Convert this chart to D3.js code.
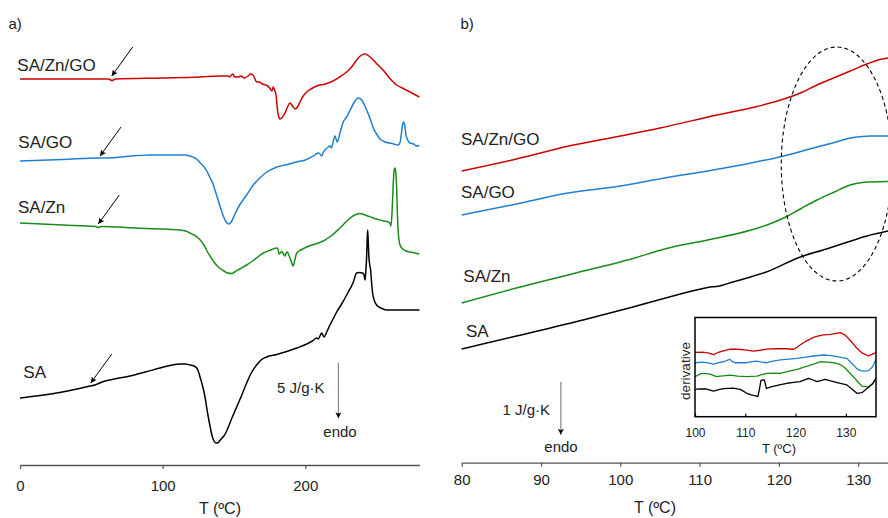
<!DOCTYPE html>
<html>
<head>
<meta charset="utf-8">
<script src="https://cdn.jsdelivr.net/npm/d3@7"></script>
<style>
  body { margin: 0; background: #fff; }
  text { font-family: "Liberation Sans", Arial, Helvetica, sans-serif; }
</style>
</head>
<body>
<div id="chart"></div>
<script>
var svgWidth = 888;
var svgHeight = 518;

// series names and colours
var seriesNames = ["SA/Zn/GO", "SA/GO", "SA/Zn", "SA"];
var seriesColors = ["#cc0000", "#1f7fd1", "#1a8c1a", "#000000"];

// tick values
var ticksA = [0, 100, 200];
var ticksB = [80, 90, 100, 110, 120, 130];
var ticksInset = [100, 110, 120, 130];

// panel a) full DSC scans, [T (ºC), heat flow (a.u., stacked)]
var aSAZnGO = [[0,38.6],[30,38.6],[56,38.6],[62,38.6],[64.5,38.45],[67,38.6],[100,38.7],[126,38.8],[140,38.9],[145.8,38.9],[147,38.8],[148,38.95],[149.3,39.1],[150.5,38.8],[153,38.8],[155,38.9],[157,38.7],[160,38.9],[161.5,39.1],[163.3,39.0],[164.5,38.7],[165.9,38.3],[167.5,38.3],[170,38.1],[172,38.0],[173.2,37.95],[175,37.7],[176.7,37.4],[177.4,37.8],[178.2,37.6],[179.5,37.0],[180.3,35.8],[181.2,34.9],[182.3,34.6],[184,34.8],[185.8,35.2],[187.5,35.8],[189.3,36.2],[191,35.9],[192.8,35.6],[194.5,35.8],[196.3,36.3],[198.5,36.9],[201,37.3],[204,37.6],[208,37.9],[214,38.1],[219.4,38.4],[224,38.8],[229,39.3],[232.5,39.8],[236,40.5],[239,40.95],[241.9,41.1],[244.5,40.9],[247.7,40.5],[251,40.0],[254.5,39.5],[259,38.7],[264.1,38.0],[268,37.7],[273.4,37.3],[280,36.8]];
var aSAGO = [[0,30.4],[30,30.55],[56.1,30.7],[58,30.7],[91,31.0],[110,31.0],[116,31.0],[119,30.9],[122,30.75],[124.5,30.5],[126.5,30.2],[128.5,29.9],[130.9,29.4],[133,28.8],[135.3,28.1],[137.8,27.0],[140.2,25.9],[142.5,24.9],[144.5,24.3],[146.5,24.1],[148.5,24.4],[150.7,25.1],[154,26.0],[158.9,27.0],[163,27.9],[168.2,28.7],[173,29.3],[177,29.6],[180,29.8],[186,30.0],[194,30.3],[200,30.5],[205.6,30.9],[209.1,31.2],[210.3,31.1],[211.5,30.9],[212.8,31.3],[214.5,31.6],[216.1,31.8],[217.3,31.9],[218.3,31.7],[219.5,32.3],[220.8,32.9],[221.6,32.6],[222.4,32.3],[224.5,33.3],[226.6,34.3],[229,34.8],[231.5,35.5],[234,36.2],[237.2,36.7],[239.5,36.5],[241.5,36.0],[243,35.5],[245.5,34.6],[247.7,33.7],[250,33.1],[252.4,32.6],[256,32.3],[259.4,32.2],[262,32.1],[265.2,32.0],[266.5,32.3],[267.5,33.3],[268.3,34.1],[269,34.3],[269.8,33.9],[270.6,33.0],[271.5,32.6],[273.4,32.2],[276,32.1],[278,31.9],[280,31.95]];
var aSAZn = [[0,24.2],[30,24.0],[53,23.85],[55,23.75],[57,23.85],[80,23.7],[100,23.6],[112.2,23.5],[116,23.4],[119.2,23.2],[122,23.0],[125,22.7],[128.5,22.1],[131.5,21.3],[135.5,20.4],[139,19.8],[142.5,19.45],[145.5,19.2],[148.4,19.15],[151,19.35],[154,19.6],[158.9,20.0],[164,20.5],[170.6,21.2],[175,21.45],[180,21.7],[180.8,21.6],[181.6,21.1],[182.5,21.2],[183.5,21.35],[184.7,21.1],[185.8,20.9],[186.6,21.2],[187.4,21.3],[188.4,21.0],[189.3,20.7],[190.5,20.2],[191.6,19.9],[192.8,20.6],[194,21.2],[197,21.5],[201,21.8],[207,22.1],[212.6,22.4],[218,22.9],[224.3,23.7],[230,24.5],[234,24.95],[238.3,25.15],[242,25.0],[247.7,24.7],[251,24.55],[254.7,24.4],[258.2,24.3],[259.3,24.2],[260.1,23.9],[260.9,25.5],[261.7,28.2],[262.3,29.5],[262.9,29.7],[263.5,29.2],[264.1,27.5],[264.6,25.0],[265.2,23.2],[266.2,22.1],[267.6,21.7],[270,21.45],[273.4,21.3],[277,21.2],[280,21.1]];
var aSA = [[0,6.7],[14,6.95],[28,7.25],[40,7.6],[49,7.9],[52.6,8.0],[55,8.15],[59.6,8.4],[68,8.65],[77.1,8.9],[88,9.3],[98.1,9.7],[105,9.95],[112.2,10.1],[116,10.1],[119.2,10.0],[122,9.9],[123.9,9.7],[125.2,9.3],[126.2,8.8],[128,7.9],[129.7,6.8],[131.5,5.2],[133.2,3.9],[134.7,2.9],[136,2.4],[137.3,2.2],[138.3,2.2],[139.6,2.35],[141,2.6],[142.9,2.9],[144.9,3.4],[148,4.5],[151.9,5.8],[155.5,7.0],[158.9,8.2],[162.5,9.3],[165.9,10.0],[169,10.5],[172.9,10.8],[180,11.05],[187,11.35],[194,11.7],[201,12.1],[205,12.4],[208,12.7],[209.1,12.6],[210.3,12.9],[211.5,13.2],[212.3,13.0],[213.1,12.8],[215,13.3],[217.3,14.0],[219.5,14.6],[222,15.3],[225.5,16.1],[229,17.0],[233.7,18.3],[236,19.2],[238,19.25],[240.2,19.2],[241.2,19.0],[241.9,18.5],[242.5,19.5],[243,20.8],[243.4,22.5],[243.7,23.5],[244.1,22.5],[244.5,21.0],[245.2,20.0],[245.8,19.5],[246.5,18.2],[247.2,17.2],[248.5,16.4],[250,16.0],[253,15.7],[257.1,15.5],[265,15.5],[280,15.5]];

// Tg arrows in panel a) (tip temperature and heat flow)
var tgT = [64.3, 56.1, 54.9, 49.6];
var tgV = [38.9, 30.9, 24.1, 8.2];

// panel b) zoom on the Tg region
var bSAZnGO = [[80,29.1],[86.9,30.3],[94.1,31.7],[100,32.6],[105,33.4],[112.2,34.7],[117,35.5],[120.6,36.3],[122.7,36.9],[124.8,37.7],[126.9,38.4],[129,39.1],[131.1,39.8],[132.5,40.2],[133.8,40.4]];
var bSAGO = [[80,24.7],[86.9,25.8],[93.4,26.9],[100,27.6],[105.6,28.4],[111,29.1],[116.5,29.9],[120.6,30.6],[124.8,31.5],[127,31.95],[129,32.4],[130.5,32.55],[131.5,32.6],[133.8,32.6]];
var bSAZn = [[80,15.9],[86.9,17.4],[93.4,18.7],[101.8,20.4],[105.6,21.3],[111,22.2],[116.5,23.2],[118.5,23.7],[120.6,24.4],[122.7,25.3],[124.8,26.2],[127,27.0],[129,27.7],[130.5,27.95],[131.5,28.0],[133.8,28.05]];
var bSA = [[80,11.3],[86.9,12.6],[95.3,14.2],[101.6,15.5],[109.6,17.2],[111,17.45],[112.5,17.6],[114.2,18.0],[118.4,19.0],[122.7,20.5],[126,21.3],[128.5,21.95],[131.1,22.6],[133.8,23.1]];

// inset: derivative curves
var dSAZnGO = [[100,6.49],[101.5,6.5],[102.8,6.4],[103.7,6.25],[104.5,6.45],[105.5,6.6],[107,6.82],[108.5,6.8],[110.3,6.72],[111.6,6.62],[113,6.7],[114.3,6.82],[116,6.85],[118,6.85],[119.6,6.8],[120.3,7.0],[120.9,7.23],[122.2,7.65],[123.6,8.0],[124.6,8.15],[125.6,8.24],[127,8.3],[128,8.4],[128.9,8.47],[129.6,8.3],[130.2,8.06],[131.2,7.5],[132.2,6.9],[133.3,6.4],[134.5,6.12],[135.3,6.3],[136,6.45]];
var dSAGO = [[100,5.44],[101.5,5.5],[102.6,5.42],[103.7,5.31],[104.7,5.45],[105.7,5.54],[106.5,5.7],[106.9,5.79],[107.4,5.55],[108,5.44],[109,5.45],[110.3,5.44],[111.3,5.55],[112.3,5.61],[113.3,5.5],[114.3,5.44],[115.5,5.6],[117,5.72],[118.7,5.8],[120.3,5.88],[122,6.0],[123.6,6.12],[125.6,6.22],[127,6.15],[128.3,6.05],[129.3,5.95],[130.2,5.88],[131.5,5.21],[132.2,4.85],[132.9,4.64],[133.7,4.6],[134.5,4.64],[135.1,4.9],[135.5,5.21],[136,5.8]];
var dSAZn = [[100,4.03],[101.3,4.37],[102.2,4.35],[103,4.3],[104.3,4.03],[105.5,4.12],[107,4.2],[108.5,4.1],[110.3,4.03],[112.3,4.1],[113.3,4.25],[114.3,4.37],[116,4.4],[117,4.37],[118.7,4.6],[120.3,4.78],[122,5.05],[123.6,5.31],[125,5.54],[126.3,5.5],[127.6,5.44],[128.7,5.3],[129.6,5.04],[130.6,4.5],[131.5,4.03],[132.4,3.5],[133.2,3.09],[134.5,2.99],[135.5,3.43],[136,3.87]];
var dSA = [[100,2.76],[101,2.8],[102.3,2.79],[103.7,2.59],[104.7,2.72],[105.7,2.82],[107.6,2.89],[109,2.76],[110.3,2.36],[111.2,2.2],[112,2.09],[112.5,2.02],[112.8,2.69],[113.1,3.63],[113.5,3.72],[113.8,3.7],[114.2,2.86],[115.3,3.02],[116.8,3.2],[118.3,3.37],[119.6,3.45],[120.9,3.53],[122.6,3.87],[123.5,3.7],[124.3,3.53],[125.9,3.77],[127,3.6],[128.3,3.43],[130.2,3.2],[131.2,2.8],[132.2,2.36],[133.2,2.42],[134.5,2.96],[135.3,3.3],[136,3.87]];

var svg = d3.select("#chart")
  .append("svg")
  .attr("width", svgWidth)
  .attr("height", svgHeight);

// arrow heads
var defs = svg.append("defs");
defs.append("marker")
  .attr("id", "head")
  .attr("viewBox", "0 0 10 10")
  .attr("refX", 10).attr("refY", 5)
  .attr("markerWidth", 8).attr("markerHeight", 6)
  .attr("markerUnits", "userSpaceOnUse")
  .attr("orient", "auto")
  .append("path").attr("d", "M0,0 L10,5 L0,10 L2,5 Z").attr("fill", "#000");
defs.append("marker")
  .attr("id", "headBar")
  .attr("viewBox", "0 0 10 10")
  .attr("refX", 10).attr("refY", 5)
  .attr("markerWidth", 9).attr("markerHeight", 6)
  .attr("markerUnits", "userSpaceOnUse")
  .attr("orient", "auto")
  .append("path").attr("d", "M0,0 L10,5 L0,10 L2.5,5 Z").attr("fill", "#000");

function styleAxis(g, fs) {
  g.select(".domain").attr("stroke", "#555").attr("stroke-width", 1.3);
  g.selectAll(".tick line").attr("stroke", "#555").attr("stroke-width", 1.2);
  g.selectAll(".tick text").attr("fill", "#222").attr("font-size", fs)
    .attr("font-family", "'Liberation Sans', Arial, sans-serif");
}

// ---------- panel a ----------
var xA = d3.scaleLinear().domain([0, 280]).range([20, 419.4]);
var yA = d3.scaleLinear().domain([0, 44]).range([465, 25]);

var lineA = d3.line().x(d => xA(d[0])).y(d => yA(d[1])).curve(d3.curveMonotoneX);
var curvesA = [aSAZnGO, aSAGO, aSAZn, aSA];

svg.selectAll(".curveA").data(curvesA).enter()
  .append("path")
  .attr("class", "curveA")
  .attr("d", lineA)
  .attr("fill", "none")
  .attr("stroke", (d, i) => seriesColors[i])
  .attr("stroke-width", 1.5)
  .attr("stroke-linejoin", "round");

var axisA = svg.append("g")
  .attr("transform", "translate(0,465)")
  .call(d3.axisBottom(xA).tickValues(ticksA).tickSizeInner(4).tickSizeOuter(0).tickPadding(11));
styleAxis(axisA, 15);

svg.append("text").attr("x", 220).attr("y", 514).attr("text-anchor", "middle")
  .attr("font-size", 16).attr("fill", "#222").text("T (ºC)");
svg.append("text").attr("x", 8.5).attr("y", 28.5).attr("font-size", 15).attr("fill", "#222").text("a)");

var labelsA = [[17.3, 70.7], [18.3, 148.3], [18, 213.3], [23.3, 378.3]];
svg.selectAll(".labA").data(seriesNames).enter()
  .append("text")
  .attr("x", (d, i) => labelsA[i][0])
  .attr("y", (d, i) => labelsA[i][1])
  .attr("font-size", 17).attr("fill", "#222")
  .text(d => d);

// Tg arrows
svg.selectAll(".tgArrow").data(tgT).enter()
  .append("line")
  .attr("x1", d => xA(d) + 21)
  .attr("y1", (d, i) => yA(tgV[i]) - 29)
  .attr("x2", d => xA(d))
  .attr("y2", (d, i) => yA(tgV[i]))
  .attr("stroke", "#000").attr("stroke-width", 1)
  .attr("marker-end", "url(#head)");

// scale bar a
svg.append("line")
  .attr("x1", xA(223.2)).attr("y1", yA(10.23))
  .attr("x2", xA(223.2)).attr("y2", yA(10.23 - 5.56))
  .attr("stroke", "#888").attr("stroke-width", 1.2)
  .attr("marker-end", "url(#headBar)");
svg.append("text").attr("x", 324.5).attr("y", 393.3).attr("text-anchor", "end")
  .attr("font-size", 15).attr("fill", "#222").text("5 J/g·K");
svg.append("text").attr("x", 340).attr("y", 436.5).attr("text-anchor", "middle")
  .attr("font-size", 15).attr("fill", "#222").text("endo");

// ---------- panel b ----------
var xB = d3.scaleLinear().domain([80, 133.76]).range([461.7, 888]);
var yB = d3.scaleLinear().domain([0, 44]).range([462, 22]);

var lineB = d3.line().x(d => xB(d[0])).y(d => yB(d[1])).curve(d3.curveMonotoneX);
var curvesB = [bSAZnGO, bSAGO, bSAZn, bSA];

svg.selectAll(".curveB").data(curvesB).enter()
  .append("path")
  .attr("class", "curveB")
  .attr("d", lineB)
  .attr("fill", "none")
  .attr("stroke", (d, i) => seriesColors[i])
  .attr("stroke-width", 1.5);

var axisB = svg.append("g")
  .attr("transform", "translate(0,462.7)")
  .call(d3.axisBottom(xB).tickValues(ticksB).tickSizeInner(4).tickSizeOuter(0).tickPadding(7.7));
styleAxis(axisB, 15);

svg.append("text").attr("x", 655).attr("y", 513).attr("text-anchor", "middle")
  .attr("font-size", 16).attr("fill", "#222").text("T (ºC)");
svg.append("text").attr("x", 460.5).attr("y", 28.5).attr("font-size", 15).attr("fill", "#222").text("b)");

var labelsB = [[461, 145], [461, 198.3], [463.3, 281.7], [466, 337.3]];
svg.selectAll(".labB").data(seriesNames).enter()
  .append("text")
  .attr("x", (d, i) => labelsB[i][0])
  .attr("y", (d, i) => labelsB[i][1])
  .attr("font-size", 17).attr("fill", "#222")
  .text(d => d);

// dashed ellipse marking the transition
svg.append("ellipse")
  .attr("cx", xB(127.3)).attr("cy", yB(29.8))
  .attr("rx", xB(127.3 + 7) - xB(127.3))
  .attr("ry", yB(0) - yB(11.7))
  .attr("fill", "none").attr("stroke", "#000").attr("stroke-width", 1.1)
  .attr("stroke-dasharray", "4,3");

// scale bar b
svg.append("line")
  .attr("x1", xB(92.5)).attr("y1", yB(8.03))
  .attr("x2", xB(92.5)).attr("y2", yB(8.03 - 5.3))
  .attr("stroke", "#888").attr("stroke-width", 1.2)
  .attr("marker-end", "url(#headBar)");
svg.append("text").attr("x", 550).attr("y", 415).attr("text-anchor", "end")
  .attr("font-size", 15).attr("fill", "#222").text("1 J/g·K");
svg.append("text").attr("x", 561).attr("y", 451.5).attr("text-anchor", "middle")
  .attr("font-size", 15).attr("fill", "#222").text("endo");

// ---------- inset ----------
var xI = d3.scaleLinear().domain([100, 136]).range([695, 876]);
var yI = d3.scaleLinear().domain([0, 10]).range([416.7, 317.5]);

var lineI = d3.line().x(d => xI(d[0])).y(d => yI(d[1]));
var curvesI = [dSAZnGO, dSAGO, dSAZn, dSA];

svg.append("rect")
  .attr("x", 695).attr("y", 317.5).attr("width", 181).attr("height", 99.2)
  .attr("fill", "#fff");

svg.selectAll(".curveI").data(curvesI).enter()
  .append("path")
  .attr("class", "curveI")
  .attr("d", lineI)
  .attr("fill", "none")
  .attr("stroke", (d, i) => seriesColors[i])
  .attr("stroke-width", 1.3)
  .attr("stroke-linejoin", "round");

var axisI = svg.append("g")
  .attr("transform", "translate(0,416.7)")
  .call(d3.axisBottom(xI).tickValues(ticksInset).tickSizeInner(-3).tickSizeOuter(0).tickPadding(11.5));
styleAxis(axisI, 12);
axisI.select(".domain").remove();
axisI.selectAll(".tick line").attr("stroke", "#000");

svg.append("rect")
  .attr("x", 695).attr("y", 317.5).attr("width", 181).attr("height", 99.2)
  .attr("fill", "none").attr("stroke", "#000").attr("stroke-width", 1.5);

svg.append("text")
  .attr("transform", "translate(690,371) rotate(-90)")
  .attr("text-anchor", "middle")
  .attr("font-size", 13.5).attr("fill", "#222").text("derivative");
svg.append("text").attr("x", 779).attr("y", 453).attr("text-anchor", "middle")
  .attr("font-size", 13).attr("fill", "#222").text("T (ºC)");
</script>
</body>
</html>
